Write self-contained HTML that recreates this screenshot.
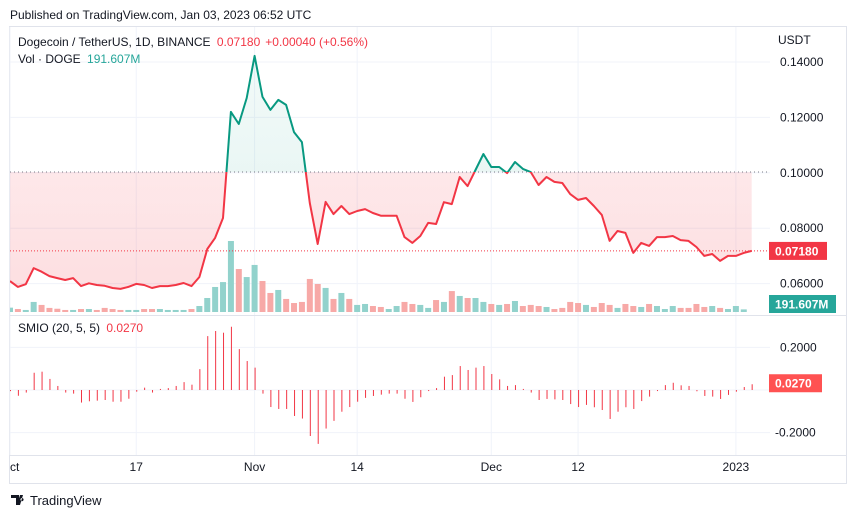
<!DOCTYPE html>
<html><head><meta charset="utf-8">
<style>
body{margin:0;background:#fff;font-family:"Liberation Sans",sans-serif;}
svg text{font-family:"Liberation Sans",sans-serif;}
</style></head>
<body>
<svg id="c" width="851" height="518" viewBox="0 0 851 518" xmlns="http://www.w3.org/2000/svg">
<defs>
<clipPath id="plotClip"><rect x="10" y="27" width="760" height="456"/></clipPath>
<linearGradient id="gGreen" x1="0" y1="0" x2="0" y2="1"><stop offset="0" stop-color="#089981" stop-opacity="0.05"/><stop offset="1" stop-color="#089981" stop-opacity="0.12"/></linearGradient>
<linearGradient id="gRed" x1="0" y1="0" x2="0" y2="1"><stop offset="0" stop-color="#f23645" stop-opacity="0.07"/><stop offset="1" stop-color="#f23645" stop-opacity="0.16"/></linearGradient>
</defs>
<text x="10" y="19" font-size="12" fill="#131722">Published on TradingView.com, Jan 03, 2023 06:52 UTC</text>
<rect x="9.5" y="26.5" width="837" height="457" fill="none" stroke="#e0e3eb"/>
<g id="grid"></g>
<g id="vol" clip-path="url(#plotClip)"></g>
<g id="price" clip-path="url(#plotClip)"></g>
<g id="smio"></g>
<line x1="10" y1="315.5" x2="846" y2="315.5" stroke="#e0e3eb"/>
<line x1="10" y1="455.5" x2="846" y2="455.5" stroke="#e0e3eb"/>
<g id="axes"></g>
<text x="18" y="46" font-size="12" fill="#131722">Dogecoin / TetherUS, 1D, BINANCE <tspan fill="#f23645" dx="3">0.07180</tspan><tspan fill="#f23645" dx="5">+0.00040 (+0.56%)</tspan></text>
<text x="18" y="63" font-size="12" fill="#131722">Vol · DOGE <tspan fill="#26a69a" dx="3">191.607M</tspan></text>
<text x="18" y="332" font-size="12" fill="#131722">SMIO (20, 5, 5) <tspan fill="#f23645" dx="3">0.0270</tspan></text>
<text x="778" y="44" font-size="12" fill="#131722">USDT</text>
<g>
<path d="M11 495h8v10h-3v-7h-5zM20 495h3l-3 10h-3z M22 498a1.6 1.6 0 1 0 0.01 0z" fill="#131722"/>
<text x="30" y="505" font-size="13" fill="#131722">TradingView</text>
</g>
</svg>
<script>
const prices=[0.0609,0.0588,0.0598,0.0656,0.0643,0.0627,0.0620,0.0613,0.0620,0.0591,0.0601,0.0595,0.0592,0.0584,0.0581,0.0588,0.0599,0.0595,0.0584,0.0591,0.0591,0.0595,0.0602,0.0591,0.0624,0.0725,0.0765,0.0837,0.1220,0.1176,0.1270,0.1422,0.1274,0.1227,0.1263,0.1245,0.1147,0.1111,0.0891,0.0743,0.0895,0.0851,0.0880,0.0851,0.0862,0.0869,0.0855,0.0845,0.0845,0.0845,0.0768,0.0747,0.0772,0.0819,0.0815,0.0894,0.0887,0.0985,0.0952,0.1010,0.1068,0.1021,0.1021,0.0999,0.1039,0.1014,0.1003,0.0956,0.0985,0.0967,0.0963,0.0923,0.0902,0.0909,0.0880,0.0848,0.0754,0.0790,0.0783,0.0711,0.0747,0.0736,0.0768,0.0768,0.0772,0.0757,0.0754,0.0732,0.0700,0.0707,0.0682,0.0700,0.0700,0.0711,0.0718];
const volumes=[320,220,150,740,520,300,240,150,150,220,220,150,300,220,150,150,150,220,220,220,150,150,150,220,440,1030,1840,2200,5220,3160,2570,3460,2280,1400,1620,960,660,740,2430,2060,1770,960,1400,960,520,590,440,370,220,440,740,590,520,300,880,740,1540,1180,1030,1030,740,590,520,590,810,440,520,440,370,220,300,740,660,520,370,660,520,300,590,440,370,590,440,220,440,300,300,590,370,440,300,220,440,192];
const smio=[-0.005,-0.027,-0.012,0.081,0.086,0.052,0.019,-0.012,-0.017,-0.059,-0.053,-0.05,-0.047,-0.055,-0.055,-0.041,-0.008,0.011,-0.012,0.005,0.009,0.019,0.037,0.025,0.098,0.253,0.277,0.269,0.297,0.192,0.136,0.105,-0.017,-0.08,-0.089,-0.089,-0.122,-0.134,-0.216,-0.253,-0.181,-0.145,-0.102,-0.08,-0.055,-0.037,-0.028,-0.022,-0.017,-0.017,-0.041,-0.056,-0.034,-0.005,0.009,0.0625,0.07,0.1125,0.094,0.105,0.1125,0.075,0.05,0.019,0.023,0.005,-0.012,-0.047,-0.042,-0.044,-0.047,-0.066,-0.08,-0.07,-0.081,-0.094,-0.136,-0.102,-0.081,-0.089,-0.052,-0.031,-0.005,0.023,0.034,0.022,0.019,-0.006,-0.028,-0.031,-0.042,-0.023,-0.008,0.014,0.027];
const priceTicks=[0.14,0.12,0.10,0.08,0.06];
const smioTicks=[0.2,-0.2];
const timeLabels=["Oct","17","Nov","14","Dec","12","2023"];
const timeLabelDays=[0,16,31,44,61,72,92];
const baseValue=0.1003;
const lastPrice=0.0718, lastVolLabel="191.607M", lastSmio=0.027;

const NS="http://www.w3.org/2000/svg";
function mk(t,a,p){const e=document.createElementNS(NS,t);for(const k in a)e.setAttribute(k,a[k]);p.appendChild(e);return e;}
const xS=i=>10+i*7.89;
const yP=p=>62+(0.14-p)*2770;
const yV=v=>312-v*0.0136;
const yS=v=>390-v*213;
const grid=document.getElementById('grid'),axes=document.getElementById('axes');
priceTicks.forEach(t=>{
 const g=mk('line',{x1:10,x2:770,y1:yP(t),y2:yP(t),stroke:'#f0f3fa'},grid);
 
 const tx=mk('text',{x:780,y:yP(t)+4,'font-size':12,fill:'#131722'},axes);tx.textContent=t.toFixed(5);
 
});
smioTicks.concat([0]).forEach(t=>{
 const g=mk('line',{x1:10,x2:770,y1:yS(t),y2:yS(t),stroke:'#f0f3fa'},grid);
 
});
smioTicks.forEach(t=>{
 const tx=mk('text',{x:t<0?775:780,y:yS(t)+4,'font-size':12,fill:'#131722'},axes);tx.textContent=t.toFixed(4);
 
});
timeLabels.forEach((l,k)=>{
 const x=xS(timeLabelDays[k]);
 const g=mk('line',{x1:x,x2:x,y1:27,y2:455,stroke:'#f0f3fa'},grid);
 
 const tx=mk('text',{x:x,y:471,'font-size':12,fill:'#131722','text-anchor':'middle','clip-path':'url(#plotClip)'},axes);tx.textContent=l;
 
});
// volume
const vg=document.getElementById('vol');
volumes.forEach((v,i)=>{
 const up=i===0||prices[i]>=prices[i-1];
 const r=mk('rect',{x:xS(i)-3,width:6,y:yV(v),height:312-yV(v),fill:up?'#92d2cc':'#f7a9a7'},vg);
 
});
// price baseline
const pg=document.getElementById('price');
const yb=yP(baseValue);
let pts=prices.map((p,i)=>xS(i).toFixed(1)+','+yP(p).toFixed(1)).join(' ');
const area='M'+xS(0)+','+yb+' L'+pts.split(' ').join(' L')+' L'+xS(prices.length-1)+','+yb+' Z';
const defs=document.querySelector('defs');
mk('rect',{id:'ca',x:0,y:0,width:851,height:yb},mk('clipPath',{id:'clipAbove'},defs));
mk('rect',{id:'cb',x:0,y:yb,width:851,height:518},mk('clipPath',{id:'clipBelow'},defs));
const fa=mk('path',{d:area,fill:'url(#gGreen)','clip-path':'url(#clipAbove)'},pg);

const fb=mk('path',{d:area,fill:'url(#gRed)','clip-path':'url(#clipBelow)'},pg);

const bl=mk('line',{x1:10,x2:770,y1:yb,y2:yb,stroke:'#787b86','stroke-dasharray':'1 3'},pg);

const la=mk('polyline',{points:pts,fill:'none',stroke:'#089981','stroke-width':2,'stroke-linejoin':'round','clip-path':'url(#clipAbove)'},pg);

const lb=mk('polyline',{points:pts,fill:'none',stroke:'#f23645','stroke-width':2,'stroke-linejoin':'round','clip-path':'url(#clipBelow)'},pg);

const ll=mk('line',{x1:10,x2:770,y1:yP(lastPrice),y2:yP(lastPrice),stroke:'#f23645','stroke-dasharray':'1 2'},pg);

// smio
const sg=document.getElementById('smio');
smio.forEach((v,i)=>{
 const l=mk('line',{x1:xS(i)+0.5,x2:xS(i)+0.5,y1:yS(0),y2:yS(v),stroke:'#f23645','stroke-width':1},sg);
 
});
// badges
function badge(y,txt,col,w,name){
 const g=mk('g',{},axes);
 
 mk('rect',{x:769,y:y-9,width:w,height:18,fill:col},g);
 const t=mk('text',{x:775,y:y+4.5,'font-size':12,'font-weight':'bold',fill:'#fff'},g);t.textContent=txt;
}
badge(yP(lastPrice),lastPrice.toFixed(5),'#f23645',58,'last-price-badge');
badge(304,lastVolLabel,'#26a69a',67,'volume-badge');
badge(yS(lastSmio)-1,lastSmio.toFixed(4),'#ff5252',53,'smio-badge');
</script>
</body></html>
